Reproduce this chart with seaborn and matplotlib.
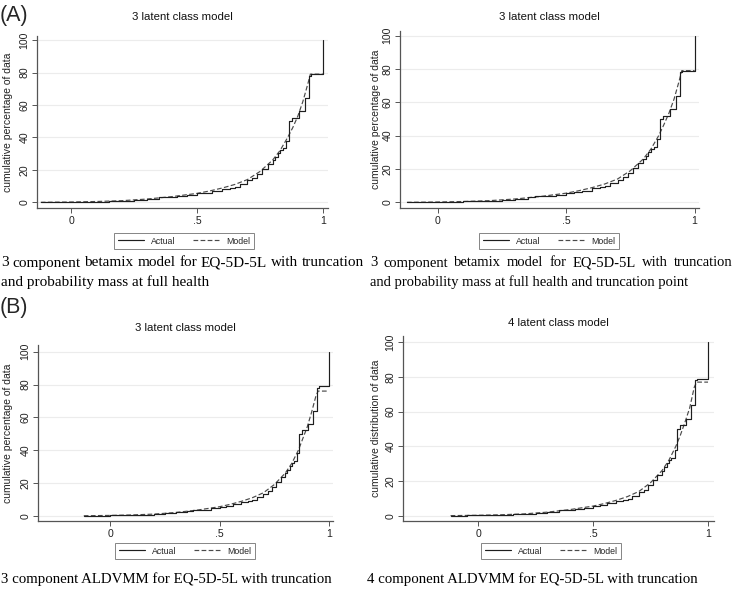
import matplotlib
matplotlib.use("Agg")
import matplotlib.pyplot as plt
from matplotlib.lines import Line2D
import seaborn as sns
import pandas as pd

# ---------------- data ----------------
actual_x = [-0.12, -0.05, 0.0, 0.05, 0.1, 0.15, 0.2, 0.25, 0.3, 0.35, 0.38, 0.42,
            0.46, 0.5, 0.53, 0.56, 0.6, 0.63, 0.65, 0.67, 0.7, 0.72, 0.74, 0.76,
            0.78, 0.8, 0.81, 0.82, 0.83, 0.84, 0.855, 0.864, 0.876, 0.905, 0.927,
            0.944, 0.952, 1.0]
actual_y = [0, 0.1, 0.2, 0.3, 0.5, 0.7, 1.0, 1.5, 2.2, 3.0, 3.5, 3.8,
            4.5, 5.5, 6.0, 7.0, 8.3, 9.0, 9.5, 11.5, 13.5, 15, 17.5, 20.5,
            23.5, 26, 28, 30.5, 32, 33.5, 38, 50, 52, 56, 64,
            78, 79, 100]

model_x = [-0.12, 0.0, 0.1, 0.2, 0.3, 0.4, 0.5, 0.55, 0.6, 0.65, 0.7, 0.75,
           0.8, 0.83, 0.86, 0.88, 0.9, 0.92, 0.94, 0.95, 1.0]
model_a1 = [0, 0.2, 0.5, 1.0, 2.0, 3.5, 5.5, 7.0, 8.8, 11.0, 14.0, 19.0,
            26.0, 32.0, 40.0, 46.0, 53.0, 62.0, 73.0, 79.0, 79.0]
model_a2 = [0, 0.2, 0.5, 1.0, 2.0, 3.5, 5.5, 7.0, 8.8, 11.0, 14.0, 19.0,
            26.0, 32.0, 40.0, 46.5, 53.5, 62.0, 73.0, 79.0, 79.0]
model_b1 = [0, 0.2, 0.5, 1.0, 2.0, 3.5, 5.5, 7.0, 8.8, 11.0, 14.0, 19.0,
            26.0, 32.0, 40.0, 47.0, 54.0, 63.0, 73.0, 76.0, 76.0]
model_b2 = [0, 0.2, 0.5, 1.0, 2.0, 3.5, 5.5, 7.0, 8.8, 11.0, 14.0, 19.0,
            26.0, 32.0, 40.0, 46.5, 54.0, 62.0, 74.0, 77.0, 77.0]

titles = ["3 latent class model", "3 latent class model",
          "3 latent class model", "4 latent class model"]
ylabels = ["cumulative percentage of data", "cumulative percentage of data",
           "cumulative percentage of data", "cumulative distribution of data"]
xtick_vals = [0, 0.5, 1]
xtick_labels = ["0", ".5", "1"]
ytick_vals = [0, 20, 40, 60, 80, 100]
ytick_labels = ["0", "20", "40", "60", "80", "100"]
legend_labels = ["Actual", "Model"]
panel_letters = ["(A)", "(B)"]
caption_a1 = ["3 component betamix model for EQ-5D-5L with truncation",
              "and probability mass at full health"]
caption_a2 = ["3 component betamix model for EQ-5D-5L with truncation",
              "and probability mass at full health and truncation point"]
caption_b1 = ["3 component ALDVMM for EQ-5D-5L with truncation"]
caption_b2 = ["4 component ALDVMM for EQ-5D-5L with truncation"]

# ---------------- layout ----------------
W, H = 734, 589
sns.set_theme(style="white")
plt.rcParams["font.family"] = ["Liberation Sans", "DejaVu Sans"]
fig = plt.figure(figsize=(W / 100, H / 100), dpi=100)


def rect(l, r, t, b):
    return [l / W, 1 - b / H, (r - l) / W, (b - t) / H]


def fy(y):
    return 1 - y / H


def fx(x):
    return x / W


panels = [
    dict(r=(37, 328, 36, 208), xlim=(-0.135, 1.02), ylim=(-3.5, 102.5),
         model=model_a1, ty=17, ylx=8, leg=(184, 241)),
    dict(r=(400, 699, 31, 208), xlim=(-0.147, 1.017), ylim=(-3.4, 102.8),
         model=model_a2, ty=17, ylx=376, leg=(549, 241)),
    dict(r=(38, 333, 345, 521), xlim=(-0.329, 1.018), ylim=(-3.2, 104.1),
         model=model_b1, ty=328, ylx=8, leg=(185, 551)),
    dict(r=(403, 714, 336, 521), xlim=(-0.327, 1.026), ylim=(-3.1, 103.6),
         model=model_b2, ty=323, ylx=376, leg=(551, 551)),
]

actual_df = pd.DataFrame({"x": actual_x, "y": actual_y})

for i, p in enumerate(panels):
    l, r, t, b = p["r"]
    ax = fig.add_axes(rect(l, r, t, b))
    ax.set_facecolor("white")
    for yv in ytick_vals:
        ax.axhline(yv, color="#ececec", lw=0.8, zorder=0)
    model_df = pd.DataFrame({"x": model_x, "y": p["model"]})
    sns.lineplot(data=actual_df, x="x", y="y", ax=ax, color="#1e1e1e", lw=0.85,
                 drawstyle="steps-post", estimator=None, sort=False, zorder=3)
    sns.lineplot(data=model_df, x="x", y="y", ax=ax, color="#4a4a4a", lw=0.85,
                 dashes=False, linestyle=(0, (4, 2)), estimator=None, sort=False,
                 zorder=2)
    ax.set_xlim(*p["xlim"])
    ax.set_ylim(*p["ylim"])
    ax.set_xticks(xtick_vals)
    ax.set_xticklabels(xtick_labels, fontsize=7.6, color="#222222")
    ax.set_yticks(ytick_vals)
    ax.set_yticklabels(ytick_labels, fontsize=7.6, rotation=90, va="center",
                       color="#222222")
    ax.tick_params(axis="both", direction="out", length=3.5, width=0.7,
                   color="#555555", pad=2, bottom=True, left=True)
    ax.set_xlabel("")
    ax.set_ylabel("")
    for s in ["top", "right"]:
        ax.spines[s].set_visible(False)
    for s in ["left", "bottom"]:
        ax.spines[s].set_color("#555555")
        ax.spines[s].set_linewidth(0.9)
    fig.text(fx((l + r) / 2), fy(p["ty"]), titles[i], ha="center", va="center",
             fontsize=8.2, color="#111111")
    fig.text(fx(p["ylx"]), fy((t + b) / 2), ylabels[i], rotation=90,
             ha="center", va="center", fontsize=7.5, color="#222222")
    handles = [Line2D([], [], color="#1e1e1e", lw=0.85),
               Line2D([], [], color="#4a4a4a", lw=0.85, linestyle=(0, (4, 2)))]
    leg = ax.legend(handles, legend_labels, loc="center",
                    bbox_to_anchor=(fx(p["leg"][0]), fy(p["leg"][1])),
                    bbox_transform=fig.transFigure, ncol=2, fontsize=6.3,
                    frameon=True, fancybox=False, edgecolor="#666666",
                    handlelength=3.0, columnspacing=2.0, handletextpad=0.8,
                    borderpad=0.45, borderaxespad=0)
    leg.get_frame().set_linewidth(0.7)

# panel letters
fig.text(fx(0), fy(15), panel_letters[0], ha="left", va="center", fontsize=15.5)
fig.text(fx(0), fy(307), panel_letters[1], ha="left", va="center", fontsize=15.5)

# captions
serif = ["Liberation Serif", "DejaVu Serif"]
renderer = fig.canvas.get_renderer()


def justified(text, x0, x1, y, fs):
    words = text.split(" ")
    objs = [fig.text(0, fy(y), w, ha="left", va="center", fontsize=fs,
                     family=serif, color="black") for w in words]
    widths = [o.get_window_extent(renderer).width for o in objs]
    gap = max((x1 - x0 - sum(widths)) / (len(words) - 1), 2.0)
    x = x0
    for o, w in zip(objs, widths):
        o.set_x(fx(x))
        x += w + gap


def plain(text, x0, y, fs):
    fig.text(fx(x0), fy(y), text, ha="left", va="center", fontsize=fs,
             family=serif, color="black")


justified(caption_a1[0], 1, 364, 263, 11.0)
plain(caption_a1[1], 1, 282, 11.0)
justified(caption_a2[0], 370, 732, 263, 10.5)
plain(caption_a2[1], 370, 282, 10.5)
plain(caption_b1[0], 1, 579, 10.7)
plain(caption_b2[0], 367, 579, 10.7)

fig.savefig("out.png", dpi=100, facecolor="white")
